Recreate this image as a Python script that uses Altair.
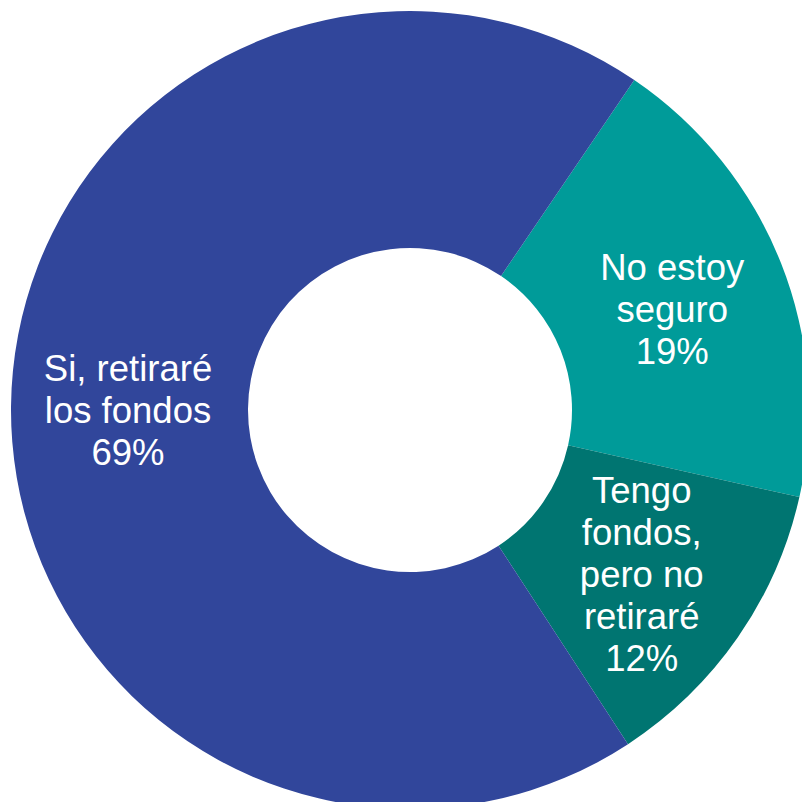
import math
import altair as alt
import pandas as pd

categories = ["No estoy seguro", "Tengo fondos, pero no retiraré", "Si, retiraré los fondos"]
values = [19.0, 12.3, 68.7]
labels = ["No estoy\nseguro\n19%", "Tengo\nfondos,\npero no\nretiraré\n12%", "Si, retiraré\nlos fondos\n69%"]
colors = ["#009B99", "#007571", "#31469B"]
order = [1, 2, 3]

df = pd.DataFrame({"cat": categories, "value": values, "label": labels, "ord": order})

start = math.radians(34.2)
theta_scale = alt.Scale(domain=[0, 100], range=[start, start + 2 * math.pi])
cx, cy = 402, 402
line_h = 42

arcs = alt.Chart(df).mark_arc(outerRadius=399, innerRadius=162, stroke=None).encode(
    theta=alt.Theta("value:Q", stack=True, scale=theta_scale),
    order=alt.Order("ord:Q", sort="ascending"),
    color=alt.Color("cat:N", scale=alt.Scale(domain=categories, range=colors), legend=None),
    x=alt.value(cx),
    y=alt.value(cy),
)

layers = [arcs]
for cat, lab in zip(categories, labels):
    n = lab.count("\n") + 1
    t = (
        alt.Chart(df)
        .transform_window(cum="sum(value)", sort=[alt.SortField("ord", order="ascending")], frame=[None, 0])
        .transform_calculate(mid="datum.cum - datum.value / 2")
        .transform_filter(alt.datum.cat == cat)
        .mark_text(
            radius=282,
            font="Liberation Sans",
            fontSize=36.5,
            lineHeight=line_h,
            lineBreak="\n",
            color="white",
            align="center",
            baseline="middle",
            dy=-(n - 1) / 2 * line_h + 5,
        )
        .encode(
            theta=alt.Theta("mid:Q", stack=False, scale=theta_scale),
            text="label:N",
            x=alt.value(cx),
            y=alt.value(cy),
        )
    )
    layers.append(t)

chart = alt.layer(*layers).properties(
    width=794, height=794, padding=0, autosize=alt.AutoSizeParams(type="none")
).configure_view(stroke=None)

chart.save("out.html", embed_options={"renderer": "svg", "actions": False})
